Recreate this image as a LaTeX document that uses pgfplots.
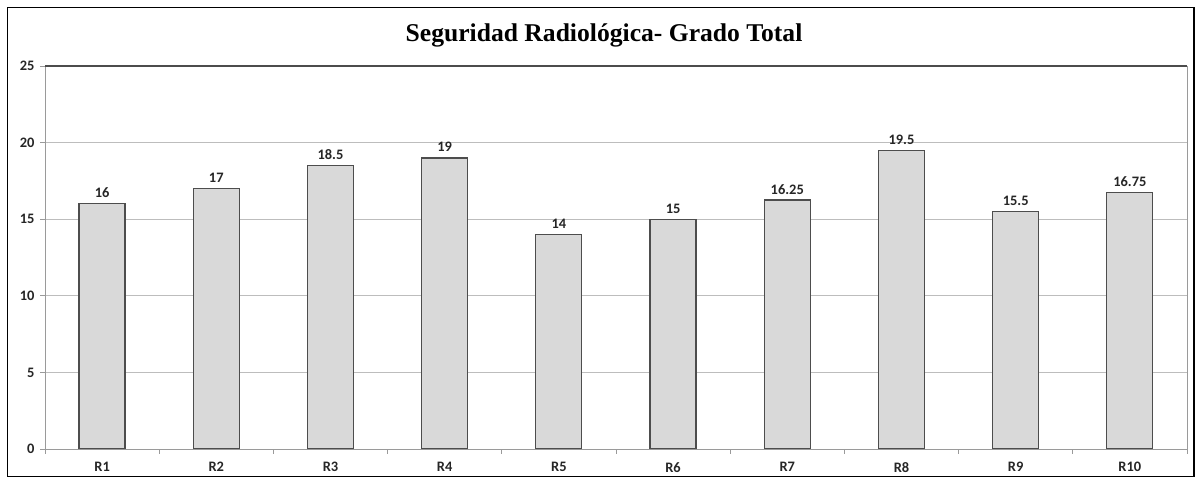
\documentclass[border=0pt]{standalone}
\usepackage{fontspec}
\setmainfont{Carlito}
\newfontfamily\titlefont{Liberation Serif}
\usepackage{pgfplots}
\pgfplotsset{compat=1.18}
\definecolor{barfill}{HTML}{D9D9D9}
\definecolor{baredge}{HTML}{4D4D4D}
\definecolor{axgray}{HTML}{9A9A9A}
\definecolor{gridgray}{HTML}{BDBDBD}
\begin{document}
\begin{tikzpicture}[x=1bp,y=1bp]
\useasboundingbox (0,0) rectangle (1202,484);
\draw[line width=1.5bp] (7.5,7.5) rectangle (1194,476.5);
\node[font=\titlefont\bfseries\fontsize{25.7}{30}\selectfont] at (604,449) {Seguridad Radiológica- Grado Total};
\begin{axis}[name=ax,
  at={(45bp,35bp)}, anchor=south west, scale only axis,
  width=1142bp, height=383bp,
  xmin=-0.5, xmax=9.5, ymin=0, ymax=25,
  ytick={0,5,10,15,20,25},
  xtick={0,...,9},
  xticklabels={R1,R2,R3,R4,R5,R6,R7,R8,R9,R10},
  minor xtick={-0.5,0.5,...,9.5},
  xtick pos=left, ytick pos=left,
  tick align=outside,
  major x tick style={draw=none},
  minor tick length=5bp, major tick length=5bp,
  tick style={axgray, line width=0.8bp},
  axis line style={axgray, line width=0.8bp},
  ymajorgrids, grid style={gridgray, line width=0.8bp},
  /pgf/number format/assume math mode=true,
  ticklabel style={font=\bfseries\fontsize{14.5}{16}\selectfont, text=black!85},
  yticklabel style={xshift=-2bp},
  xticklabel style={yshift=-5bp},
  ybar, bar width=46bp,
  point meta=explicit symbolic,
  nodes near coords,
  nodes near coords style={font=\bfseries\fontsize{14.5}{16}\selectfont, text=black!85, anchor=south, yshift=2bp},
]
\addplot[fill=barfill, draw=baredge, line width=1.2bp] table[meta=lab] {
x y lab
0 16 16
1 17 17
2 18.5 18.5
3 19 19
4 14 14
5 15 15
6 16.25 16.25
7 19.5 19.5
8 15.5 15.5
9 16.75 16.75
};
\end{axis}
\draw[black!70, line width=1.3bp] (ax.north west) -- (ax.north east);
\end{tikzpicture}
\end{document}
